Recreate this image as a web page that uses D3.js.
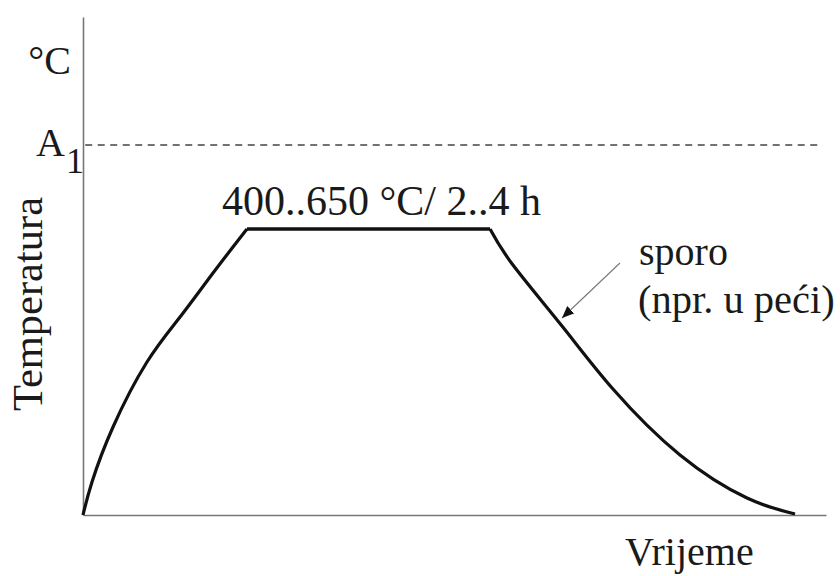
<!DOCTYPE html>
<html>
<head>
<meta charset="utf-8">
<script src="https://cdn.jsdelivr.net/npm/d3@7"></script>
</head>
<body style="margin:0; background:#fff">
<svg id="chart" width="840" height="576" style="display:block; font-family:'Liberation Serif', 'Times New Roman', serif"></svg>
<script>
// ---- data (time and temperature in relative units, 0..100) ----
const heatingTime = [0, 1.21, 4.04, 8.61, 13.06, 17.5, 22.07];
const heatingTemp = [0, 6.63, 17.67, 30.72, 39.76, 48.59, 57.43];
const holdTime = [22.07, 54.78];
const holdTemp = [57.43, 57.43];
const coolingTime = [54.78, 57.87, 64.47, 71.33, 80.35, 89.37, 95.83];
const coolingTemp = [57.43, 50.2, 37.95, 25.3, 12.05, 3.41, 0.2];
const a1Temp = [74.3];
const arrowFrom = [72.27, 50.6];
const arrowTo = [64.47, 39.56];
const labelTexts = ["°C", "A", "1", "400..650 °C/ 2..4 h", "sporo", "(npr. u peći)", "Vrijeme", "Temperatura"];

const svg = d3.select("#chart");
const x = d3.scaleLinear().domain([0, 100]).range([83, 826]);
const y = d3.scaleLinear().domain([0, 100]).range([515, 17]);

// axes (plain lines, no ticks)
const xAxis = d3.axisBottom(x).tickValues([]).tickSizeOuter(0);
const yAxis = d3.axisLeft(y).tickValues([]).tickSizeOuter(0);
svg.append("g").attr("transform", `translate(0,${y(0)})`).call(xAxis)
  .select(".domain").attr("stroke", "#777").attr("stroke-width", 1.6);
svg.append("g").attr("transform", `translate(${x(0)},0)`).call(yAxis)
  .select(".domain").attr("stroke", "#777").attr("stroke-width", 1.6);

// A1 dashed line
svg.append("line")
  .attr("x1", x(0.3)).attr("x2", x(99.5))
  .attr("y1", y(a1Temp[0])).attr("y2", y(a1Temp[0]))
  .attr("stroke", "#444").attr("stroke-width", 1.6)
  .attr("stroke-dasharray", "7,5.5");

// curve segments
const smooth = d3.line().x(d => x(d[0])).y(d => y(d[1])).curve(d3.curveNatural);
const straight = d3.line().x(d => x(d[0])).y(d => y(d[1]));
const heating = heatingTime.map((t, i) => [t, heatingTemp[i]]);
const hold = holdTime.map((t, i) => [t, holdTemp[i]]);
const cooling = coolingTime.map((t, i) => [t, coolingTemp[i]]);
[heating, hold, cooling].forEach((seg, i) => {
  svg.append("path")
    .attr("d", (i === 1 ? straight : smooth)(seg))
    .attr("fill", "none")
    .attr("stroke", "#111")
    .attr("stroke-width", i === 1 ? 3.6 : 3.2)
    .attr("stroke-linejoin", "round");
});

// arrow
svg.append("defs").append("marker")
  .attr("id", "ah").attr("viewBox", "0 0 12 10")
  .attr("refX", 12).attr("refY", 5)
  .attr("markerWidth", 12).attr("markerHeight", 10)
  .attr("markerUnits", "userSpaceOnUse")
  .attr("orient", "auto")
  .append("path").attr("d", "M0,0 L12,5 L0,10 Z").attr("fill", "#111");
svg.append("line")
  .attr("x1", x(arrowFrom[0])).attr("y1", y(arrowFrom[1]))
  .attr("x2", x(arrowTo[0])).attr("y2", y(arrowTo[1]))
  .attr("stroke", "#777").attr("stroke-width", 1.1)
  .attr("marker-end", "url(#ah)");

// texts
const placements = [
  {x: 71, y: 74, size: 40, anchor: "end"},
  {x: 36, y: 156, size: 40},
  {x: 66, y: 173, size: 36},
  {x: 222, y: 215, size: 42},
  {x: 639, y: 265, size: 40},
  {x: 638, y: 313, size: 40.5},
  {x: 625, y: 565, size: 40},
  {x: 0, y: 0, size: 42.5, anchor: "middle", transform: "translate(42,304) rotate(-90)"}
];
svg.selectAll("text.lbl").data(labelTexts).join("text")
  .attr("class", "lbl")
  .attr("x", (d, i) => placements[i].x)
  .attr("y", (d, i) => placements[i].y)
  .attr("transform", (d, i) => placements[i].transform || null)
  .attr("text-anchor", (d, i) => placements[i].anchor || "start")
  .style("font-family", '"Liberation Serif"')
  .attr("font-size", (d, i) => placements[i].size)
  .attr("fill", "#1a1a1a")
  .text(d => d);
</script>
</body>
</html>
